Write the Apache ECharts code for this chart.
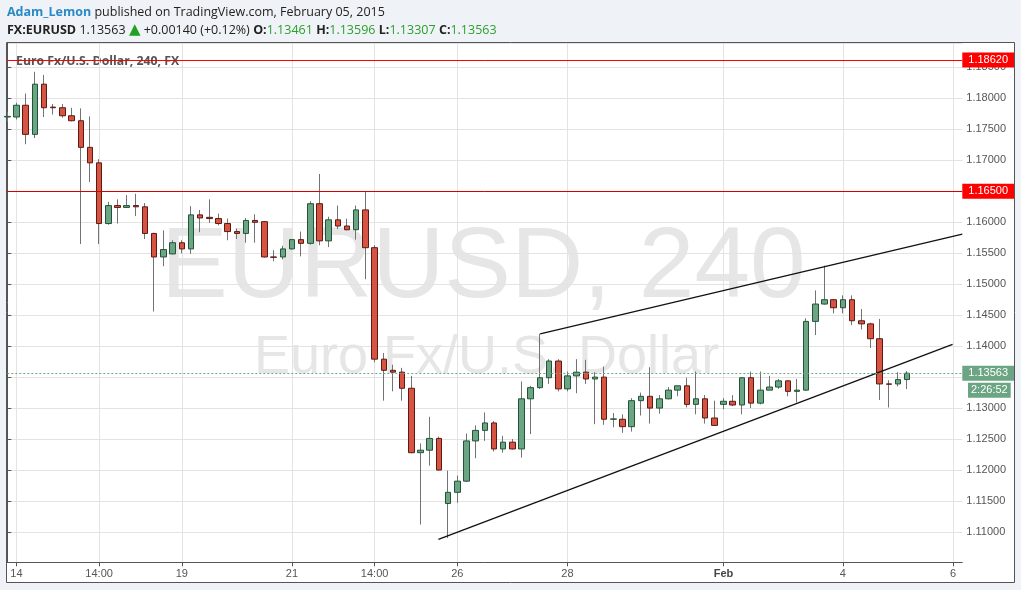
<!DOCTYPE html>
<html><head><meta charset="utf-8">
<script src="https://cdn.jsdelivr.net/npm/echarts@6/dist/echarts.min.js"></script>
<style>html,body{margin:0;padding:0;background:#eff3f7;}#c{width:1021px;height:590px;}</style>
</head><body><div id="c"></div>
<script>
// ---- data (4h candles, EURUSD) ----
const opens = [1.1770,1.1770,1.1789,1.1742,1.1823,1.1786,1.1785,1.1772,1.1764,1.1721,
1.1696,1.1598,1.1627,1.1624,1.1627,1.1625,1.1582,1.1544,1.1549,1.1567,
1.1557,1.1612,1.1608,1.1606,1.1598,1.1585,1.1582,1.1603,1.1601,1.1544,
1.1544,1.1557,1.1572,1.1566,1.1630,1.1570,1.1604,1.1594,1.1588,1.1620,
1.1559,1.1379,1.1361,1.1358,1.1332,1.1228,1.1232,1.1251,1.1146,1.1164,
1.1182,1.1247,1.1264,1.1276,1.1234,1.1245,1.1234,1.1315,1.1333,1.1349,
1.1376,1.1331,1.1352,1.1358,1.1347,1.1350,1.1282,1.1282,1.1270,1.1312,
1.1319,1.1300,1.1315,1.1329,1.1336,1.1306,1.1315,1.1284,1.1306,1.1311,
1.1305,1.1349,1.1308,1.1329,1.1334,1.1344,1.1327,1.1329,1.1440,1.1468,
1.1475,1.1462,1.1475,1.1441,1.1436,1.1412,1.1339,1.1339,1.13461];
const closes = [1.1771,1.1789,1.1742,1.1823,1.1785,1.1785,1.1772,1.1764,1.1721,1.1696,
1.1598,1.1627,1.1624,1.1627,1.1625,1.1582,1.1544,1.1556,1.1567,1.1557,
1.1612,1.1607,1.1606,1.1598,1.1585,1.1582,1.1603,1.1600,1.1544,1.15435,
1.1557,1.1572,1.1566,1.1630,1.1570,1.1604,1.1594,1.1588,1.1620,1.1559,
1.1379,1.1361,1.1358,1.1332,1.1228,1.1232,1.1251,1.1200,1.1164,1.1182,
1.1247,1.1264,1.1276,1.1234,1.1245,1.1234,1.1315,1.1333,1.1349,1.1376,
1.1331,1.1352,1.1358,1.1347,1.1350,1.1282,1.12825,1.1270,1.1312,1.1319,
1.1300,1.1315,1.1329,1.1336,1.1306,1.1315,1.1284,1.1272,1.1311,1.1305,
1.1349,1.1308,1.1329,1.1334,1.1344,1.1327,1.1329,1.1440,1.1468,1.1475,
1.1462,1.1475,1.1441,1.1436,1.1412,1.1339,1.13385,1.1346,1.13563];
const highs = [1.1778,1.1793,1.1808,1.1843,1.1838,1.1791,1.1791,1.1785,1.1784,1.1771,
1.1702,1.1633,1.1637,1.1644,1.1646,1.1631,1.1583,1.1587,1.1571,1.1571,
1.1626,1.1620,1.1637,1.1614,1.1606,1.1590,1.1607,1.1613,1.1602,1.1555,
1.1562,1.1573,1.1585,1.1634,1.1678,1.1609,1.1627,1.1606,1.1627,1.1649,
1.1563,1.1389,1.1370,1.1365,1.1352,1.1243,1.1286,1.1254,1.1199,1.1191,
1.1259,1.1272,1.1293,1.1279,1.1255,1.1250,1.1343,1.1336,1.1420,1.1379,
1.1379,1.1359,1.1379,1.1378,1.1358,1.1367,1.1292,1.1290,1.1316,1.1325,
1.1366,1.1321,1.1334,1.1336,1.1349,1.1359,1.1321,1.1312,1.1316,1.1321,
1.1349,1.1359,1.1359,1.1352,1.1347,1.1345,1.1347,1.1445,1.1490,1.1530,
1.1476,1.1482,1.1482,1.1460,1.1438,1.1444,1.1345,1.1358,1.13596];
const lows = [1.1762,1.1766,1.1726,1.1736,1.1770,1.1774,1.1769,1.1763,1.1565,1.1665,
1.1565,1.1596,1.1598,1.1623,1.1610,1.1573,1.1456,1.1529,1.1548,1.1550,
1.1549,1.1584,1.1599,1.1595,1.1571,1.1573,1.1567,1.1567,1.1543,1.1537,
1.1540,1.1556,1.1545,1.1564,1.1563,1.1560,1.1589,1.1587,1.1572,1.1508,
1.1374,1.1312,1.1327,1.1312,1.1227,1.1112,1.1207,1.1199,1.1090,1.1147,
1.1181,1.1219,1.1247,1.1230,1.1228,1.1233,1.1220,1.1258,1.1331,1.1339,
1.1327,1.1327,1.1324,1.1339,1.1274,1.1273,1.1269,1.1260,1.1262,1.1288,
1.1275,1.1291,1.1314,1.1319,1.1301,1.1290,1.1275,1.1272,1.1298,1.1303,
1.1290,1.1300,1.1306,1.1329,1.1331,1.1319,1.1309,1.1328,1.1418,1.1467,
1.1453,1.1453,1.1434,1.1427,1.1397,1.1313,1.1301,1.1335,1.13307];
const futureSlots = 6;
const tickIndex  = [1, 10, 19, 31, 40, 49, 61, 78, 91, 103];
const tickLabels = ['14','14:00','19','21','14:00','26','28','Feb','4','6'];
const levels = [1.18620, 1.16500];
const lastPrice = 1.13563;
const countdown = '2:26:52';
const changeText = '+0.00140 (+0.12%)';
const trendLower = [[46.95, 1.1088], [102.94, 1.1403]];
const trendUpper = [[58.03, 1.1420], [104, 1.1581]];
const yMin = 1.1051, yMax = 1.18895;

// ---- build ----
const n = opens.length;
const cats = Array.from({length: n + futureSlots}, (_, i) => String(i));
const ohlc = opens.map((o, i) => [o, closes[i], lows[i], highs[i]]);
const bodies = opens.map((o, i) => [o, closes[i], Math.min(o, closes[i]), Math.max(o, closes[i])]);
const isTick = (i) => tickIndex.indexOf(i) >= 0;
const GREEN = '#6ba583', RED = '#d75442';
const axisFont = 'Liberation Sans, Arial, sans-serif';
const uiFont = '"Open Sans", sans-serif';

const chart = echarts.init(document.getElementById('c'), null, {renderer: 'canvas'});

function lvlLabel(bg) {
  return {show: true, position: 'end', distance: 0, color: '#fff', backgroundColor: bg,
    fontFamily: axisFont, fontSize: 11, lineHeight: 11, padding: [2, 6, 2, 6],
    formatter: (p) => p.value.toFixed(5)};
}

const last = n - 1;
const hs = '12.5px ';
const graphicEls = [
  {id: 'bg', type: 'rect', shape: {x: 6, y: 42.5, width: 1009, height: 540.5}, style: {fill: '#fff'}, z: -10, silent: true},
  {id: 'frame', type: 'rect', shape: {x: 6.5, y: 42.5, width: 1008, height: 540}, style: {fill: 'none', stroke: '#555', lineWidth: 1}, z: 50, silent: true},
  {id: 'wm1', type: 'text', x: 161, y: 269, style: {text: 'EURUSD, 240', font: '100px ' + axisFont, fill: '#e6e6e6', textVerticalAlign: 'middle'}, z: -5, silent: true},
  {id: 'wm2', type: 'text', x: 254, y: 358, style: {text: 'Euro Fx/U.S. Dollar', font: '54px ' + axisFont, fill: '#e6e6e6', textVerticalAlign: 'middle'}, z: -5, silent: true},
  {id: 'title', type: 'text', x: 16, y: 61, style: {text: 'Euro Fx/U.S. Dollar, 240, FX', font: 'bold 12.3px ' + uiFont, fill: '#555', textVerticalAlign: 'middle'}, z: -1, silent: true},
  {id: 'h1', type: 'text', x: 7, y: 12, style: {
    text: '{u|Adam_Lemon}{n| published on TradingView.com, February 05, 2015}',
    textVerticalAlign: 'middle',
    rich: {u: {font: 'bold ' + hs + uiFont, fill: '#2a8ac6'}, n: {font: hs + uiFont, fill: '#222'}}}, z: 60, silent: true},
  {id: 'h2', type: 'text', x: 7, y: 30, style: {
    text: '{b|FX:EURUSD} {n|' + closes[last].toFixed(5) + '} {g|▲}{n| ' + changeText + '} {b|O:}{v|' + opens[last].toFixed(5) +
          '} {b|H:}{v|' + highs[last].toFixed(5) + '} {b|L:}{v|' + lows[last].toFixed(5) + '} {b|C:}{v|' + closes[last].toFixed(5) + '}',
    textVerticalAlign: 'middle',
    rich: {b: {font: 'bold ' + hs + uiFont, fill: '#222'}, n: {font: hs + uiFont, fill: '#222'},
           g: {font: '15px DejaVu Sans, sans-serif', fill: '#22a022'}, v: {font: hs + uiFont, fill: '#2ca02c'}}}, z: 60, silent: true}
];

chart.setOption({
  animation: false,
  backgroundColor: 'transparent',
  grid: {left: 7.3, right: 58.7, top: 43, bottom: 27.7, containLabel: false},
  xAxis: [{
    type: 'category', data: cats, boundaryGap: false,
    axisLine: {show: true, lineStyle: {color: '#555', width: 1}},
    axisTick: {show: true, interval: (i) => isTick(i), length: 4, lineStyle: {color: '#555'}},
    axisLabel: {interval: (i) => isTick(i), margin: 6, color: '#555', fontFamily: axisFont, fontSize: 11,
      formatter: (v, i) => { const k = tickIndex.indexOf(Number(v)); const t = k >= 0 ? tickLabels[k] : ''; return t === 'Feb' ? '{m|Feb}' : t; },
      rich: {m: {fontWeight: 'bold', color: '#444', fontFamily: axisFont, fontSize: 11}}},
    splitLine: {show: true, interval: (i) => isTick(i), lineStyle: {color: '#e3e3e3', width: 1}}
  }, {
    type: 'value', min: 0, max: n + futureSlots - 1, show: false
  }],
  yAxis: {
    type: 'value', position: 'right', min: yMin, max: yMax, scale: true,
    splitNumber: 17, minInterval: 0.005, maxInterval: 0.005,
    axisLine: {show: true, lineStyle: {color: '#555', width: 1}},
    axisTick: {show: true, length: 4, lineStyle: {color: '#555'}},
    axisLabel: {showMinLabel: false, showMaxLabel: false, margin: 4, color: '#555', fontFamily: axisFont, fontSize: 11,
      formatter: (v) => v.toFixed(5)},
    splitLine: {show: true, lineStyle: {color: '#e3e3e3', width: 1}}
  },
  graphic: {elements: graphicEls},
  series: [{
    name: 'wicks', type: 'candlestick', data: ohlc, barWidth: 1, clip: true, silent: true, z: 2,
    itemStyle: {color: '#737375', color0: '#737375', borderColor: '#737375', borderColor0: '#737375', borderWidth: 1},
    markLine: {
      symbol: ['none', 'none'], silent: true, animation: false, precision: 5,
      data: [
        {yAxis: levels[0], lineStyle: {color: '#ff0000', width: 1, type: 'solid'}, label: lvlLabel('#ff0000')},
        {yAxis: levels[1], lineStyle: {color: '#d40000', width: 1, type: 'solid'}, label: lvlLabel('#ff0000')},
        {yAxis: lastPrice, lineStyle: {color: GREEN, width: 1, type: [2, 2]}, label: lvlLabel(GREEN)}
      ]
    }
  }, {
    name: 'bodies', type: 'candlestick', data: bodies, barWidth: 6, clip: true, silent: true, z: 3,
    itemStyle: {color: GREEN, color0: RED, borderColor: '#225437', borderColor0: '#5b1a13', borderWidth: 1}
  }, {
    name: 'trendLower', type: 'line', xAxisIndex: 1, data: trendLower, symbol: 'none', silent: true, z: 4,
    lineStyle: {color: '#111', width: 1.3}
  }, {
    name: 'trendUpper', type: 'line', xAxisIndex: 1, data: trendUpper, symbol: 'none', silent: true, z: 4,
    lineStyle: {color: '#111', width: 1.3}
  }]
});

const py = chart.convertToPixel({yAxisIndex: 0}, lastPrice);
graphicEls.push({id: 'cd', type: 'text', x: 968, y: py + 17, style: {
  text: countdown, font: '11px ' + axisFont, fill: '#fff', backgroundColor: GREEN,
  padding: [2, 3, 2, 3], textVerticalAlign: 'middle'}, z: 60, silent: true});
chart.setOption({graphic: {elements: graphicEls}});
</script></body></html>
